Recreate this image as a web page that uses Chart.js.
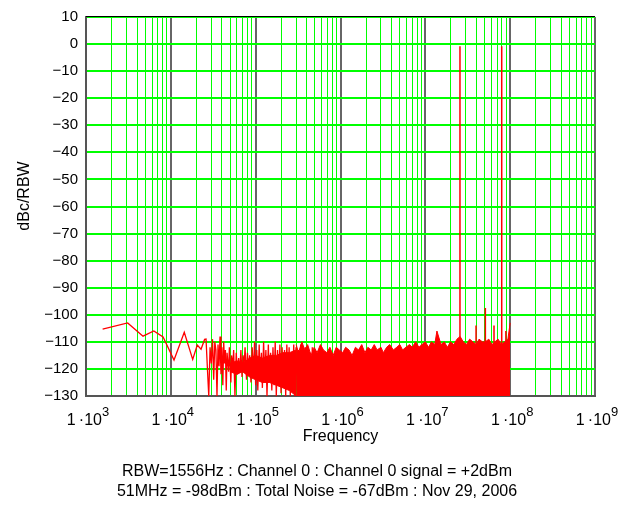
<!DOCTYPE html>
<html>
<head>
<meta charset="utf-8">
<script src="https://cdn.jsdelivr.net/npm/chart.js@4.4.1/dist/chart.umd.min.js"></script>
<style>
  body { margin: 0; background: #fff; }
  #box { width: 622px; height: 506px; }
</style>
</head>
<body>
<div id="box"><canvas id="myChart"></canvas></div>
<script>
// trace at low frequency (smooth part, then the noisy part up to ~600 kHz)
var lowFreq = [1570, 3100, 4700, 6300, 8100, 10900, 14400, 18100, 20500, 22700, 25000];
var lowLevel = [-105.3, -103, -107.9, -106, -108.2, -116.7, -106.5, -116.5, -111.2, -112.7, -109.1];

var noiseFreq = [
  26e3, 27e3, 28e3, 29e3, 30e3, 31e3, 32e3, 33e3, 34e3, 35e3,
  36e3, 37e3, 38e3, 39e3, 40e3, 41e3, 42e3, 43e3, 44e3, 45e3,
  46e3, 48e3, 49e3, 51e3, 52e3, 54e3, 55e3, 57e3, 59e3, 61e3,
  63e3, 65e3, 67e3, 69e3, 71e3, 73e3, 75e3, 78e3, 80e3, 83e3,
  85e3, 88e3, 91e3, 94e3, 97e3, 100e3, 103e3, 106e3, 110e3, 113e3,
  117e3, 120e3, 124e3, 128e3, 132e3, 136e3, 141e3, 145e3, 150e3, 155e3,
  160e3, 165e3, 170e3, 175e3, 181e3, 187e3, 193e3, 199e3, 205e3, 212e3,
  219e3, 226e3, 233e3, 240e3, 248e3, 256e3, 264e3, 272e3, 281e3, 290e3,
  299e3, 309e3, 319e3, 329e3, 340e3, 350e3, 362e3, 373e3, 385e3, 397e3,
  410e3, 423e3, 437e3, 451e3, 465e3, 480e3, 495e3, 511e3, 527e3, 544e3,
  562e3, 580e3, 598e3
];
var noiseLevel = [
  -109, -120, -130, -112, -118, -109, -124, -110, -113, -130,
  -111, -119, -108, -122, -112, -126, -110, -118, -113, -128,
  -114, -121, -112, -125, -115, -119, -113, -130, -114, -122,
  -116, -121, -113, -123, -115, -119, -112, -124, -114, -121,
  -115, -125, -112, -122, -110, -126, -113, -128, -111, -124,
  -114, -127, -110, -123, -113, -130, -111, -125, -114, -128,
  -112, -126, -110, -130, -113, -124, -111, -129, -112, -127,
  -113, -130, -111, -125, -112, -130, -114, -126, -111, -130,
  -112, -128, -113, -130, -111, -127, -114, -130, -112, -129,
  -113, -130, -114, -128, -112, -130, -113, -127, -114, -130,
  -113, -130, -114
];

// solid core of the noise between ~50 kHz and ~300 kHz
var coreFreq = [5.0e4, 6.0e4, 7.0e4, 8.5e4, 1.0e5, 1.2e5, 1.45e5, 1.75e5, 2.1e5, 2.5e5, 3.0e5];
var coreTop = [-118, -117, -118, -116, -115, -116, -115, -115, -114, -114, -113];
var coreBottom = [-121, -122, -121, -123, -124, -125, -125, -126, -127, -128, -130];

// top edge of the solid noise band (filled down to -130)
var bandFreq = [
  3.0e5, 3.2e5, 3.5e5, 3.8e5, 4.1e5, 4.5e5, 4.9e5, 5.3e5, 5.8e5, 6.3e5,
  6.9e5, 7.5e5, 8.2e5, 8.9e5, 9.7e5, 1.06e6, 1.15e6, 1.26e6, 1.37e6, 1.5e6,
  1.63e6, 1.78e6, 1.94e6, 2.1e6, 2.3e6, 2.5e6, 2.7e6, 3.0e6, 3.2e6, 3.5e6,
  3.8e6, 4.2e6, 4.6e6, 5.0e6, 5.4e6, 5.9e6, 6.5e6, 7.0e6, 7.7e6, 8.4e6,
  9.1e6, 1.0e7, 1.09e7, 1.18e7, 1.29e7, 1.37e7, 1.53e7, 1.67e7, 1.82e7, 1.98e7,
  2.16e7, 2.36e7, 2.57e7, 2.8e7, 3.05e7, 3.33e7, 3.63e7, 3.96e7, 4.3e7, 4.7e7,
  5.1e7, 5.6e7, 6.1e7, 6.6e7, 7.2e7, 7.9e7, 8.6e7, 9.4e7, 1.0e8
];
var bandLevel = [
  -111, -114, -110, -113, -111, -115, -112, -114, -111, -113,
  -114, -112, -115, -112, -113, -114, -112, -113, -115, -112,
  -113, -111, -114, -112, -113, -111, -113, -112, -114, -112,
  -111, -113, -112, -111, -113, -112, -111, -112, -110, -112,
  -111, -110, -112, -110, -111, -106, -111, -110, -112, -110,
  -111, -109, -108, -110, -111, -109, -110, -111, -109, -110,
  -110, -109, -111, -110, -109, -111, -110, -109, -103
];

// discrete spurs
var spurFreq = [2.56e7, 3.96e7, 5.1e7, 6.45e7, 7.95e7, 8.9e7];
var spurLevel = [-0.8, -104, -97.5, -104, -0.8, -106];

var xDecades = [1e3, 1e4, 1e5, 1e6, 1e7, 1e8, 1e9];
var xExponents = ['3', '4', '5', '6', '7', '8', '9'];

var footLines = [
  'RBW=1556Hz : Channel 0 : Channel 0 signal = +2dBm',
  '51MHz = -98dBm : Total Noise = -67dBm : Nov 29, 2006'
];

var FONT = '"Liberation Sans", Arial, sans-serif';

function isDecade(v) {
  var e = Math.log10(v);
  return Math.abs(e - Math.round(e)) < 1e-6;
}

var traceData = [];
lowFreq.forEach(function (f, i) { traceData.push({ x: f, y: lowLevel[i] }); });
noiseFreq.forEach(function (f, i) { traceData.push({ x: f, y: noiseLevel[i] }); });

var coreTopData = coreFreq.map(function (f, i) { return { x: f, y: coreTop[i] }; });
var coreBottomData = coreFreq.map(function (f, i) { return { x: f, y: coreBottom[i] }; });
var bandData = bandFreq.map(function (f, i) { return { x: f, y: bandLevel[i] }; });

var spurData = [];
spurFreq.forEach(function (f, i) {
  spurData.push({ x: f, y: -112 });
  spurData.push({ x: f, y: spurLevel[i] });
  spurData.push({ x: f, y: null });
});

// axis label, x tick labels with raised exponents, footer text, top frame line
var extras = {
  id: 'extras',
  afterDraw: function (chart) {
    var c = chart.ctx;
    var a = chart.chartArea;
    var xs = chart.scales.x;
    c.save();
    c.strokeStyle = '#000';
    c.lineWidth = 1;
    c.beginPath();
    c.moveTo(a.left, a.top - 0.5);
    c.lineTo(a.right, a.top - 0.5);
    c.stroke();

    c.fillStyle = '#000';
    c.textBaseline = 'alphabetic';
    xDecades.forEach(function (d, i) {
      var px = xs.getPixelForValue(d);
      c.font = '16px ' + FONT;
      var base = '1\u2009·10';
      var wb = c.measureText(base).width;
      c.font = '13px ' + FONT;
      var we = c.measureText(xExponents[i]).width;
      var x0 = px - (wb + we) / 2 + 2;
      c.font = '16px ' + FONT;
      c.textAlign = 'left';
      c.fillText(base, x0, a.bottom + 29);
      c.font = '13px ' + FONT;
      c.fillText(xExponents[i], x0 + wb, a.bottom + 20);
    });

    c.font = '16px ' + FONT;
    c.textAlign = 'center';
    c.textBaseline = 'middle';
    c.save();
    c.translate(25, 196);
    c.rotate(-Math.PI / 2);
    c.fillText('dBc/RBW', 0, 0);
    c.restore();

    c.fillText(footLines[0], 317, 472);
    c.fillText(footLines[1], 317, 492);
    c.restore();
  }
};

var ctx = document.getElementById('myChart').getContext('2d');
var myChart = new Chart(ctx, {
  type: 'line',
  data: {
    datasets: [
      {
        label: 'band',
        data: bandData,
        borderColor: '#ff0000',
        backgroundColor: '#ff0000',
        borderWidth: 1,
        fill: 'start',
        pointRadius: 0,
        order: 4
      },
      {
        label: 'core bottom',
        data: coreBottomData,
        borderColor: '#ff0000',
        borderWidth: 1,
        fill: false,
        pointRadius: 0,
        order: 5
      },
      {
        label: 'core top',
        data: coreTopData,
        borderColor: '#ff0000',
        backgroundColor: '#ff0000',
        borderWidth: 1,
        fill: '-1',
        pointRadius: 0,
        order: 5
      },
      {
        label: 'trace',
        data: traceData,
        borderColor: '#ff0000',
        borderWidth: 1.3,
        fill: false,
        pointRadius: 0,
        order: 2
      },
      {
        label: 'spurs',
        data: spurData,
        borderColor: '#ff0000',
        borderWidth: 1.5,
        fill: false,
        pointRadius: 0,
        spanGaps: false,
        order: 1
      }
    ]
  },
  options: {
    responsive: true,
    maintainAspectRatio: false,
    animation: false,
    layout: { padding: { left: 0, right: 27, top: 16, bottom: 60 } },
    plugins: {
      legend: { display: false },
      tooltip: { enabled: false }
    },
    elements: { line: { tension: 0 } },
    scales: {
      x: {
        type: 'logarithmic',
        min: 1e3,
        max: 1e9,
        afterFit: function (scale) { scale.height = 50; },
        afterBuildTicks: function (scale) {
          var t = [];
          xDecades.forEach(function (d, i) {
            for (var m = 1; m <= 9; m++) {
              if (i === xDecades.length - 1 && m > 1) break;
              t.push({ value: d * m, major: m === 1 });
            }
          });
          scale.ticks = t;
        },
        ticks: {
          autoSkip: false,
          maxRotation: 0,
          padding: 8,
          color: '#000',
          font: { family: FONT, size: 16 },
          callback: function () { return ''; }
        },
        grid: {
          drawTicks: false,
          color: function (c) { return c.tick && isDecade(c.tick.value) ? '#666666' : '#00ff00'; },
          lineWidth: function (c) { return c.tick && isDecade(c.tick.value) ? 2 : 1; }
        },
        border: { color: '#555555', width: 2 },
        title: {
          display: true,
          text: 'Frequency',
          color: '#000',
          padding: 0,
          font: { family: FONT, size: 16 }
        }
      },
      y: {
        min: -130,
        max: 10,
        afterFit: function (scale) { scale.width = 86; },
        ticks: {
          stepSize: 10,
          padding: 8,
          color: '#000',
          font: { family: FONT, size: 15 },
          callback: function (value) {
            return value < 0 ? '\u2212' + Math.abs(value) : String(value);
          }
        },
        grid: {
          drawTicks: false,
          color: '#00ff00',
          lineWidth: 2
        },
        border: { color: '#555555', width: 2 }
      }
    }
  },
  plugins: [extras]
});
</script>
</body>
</html>
